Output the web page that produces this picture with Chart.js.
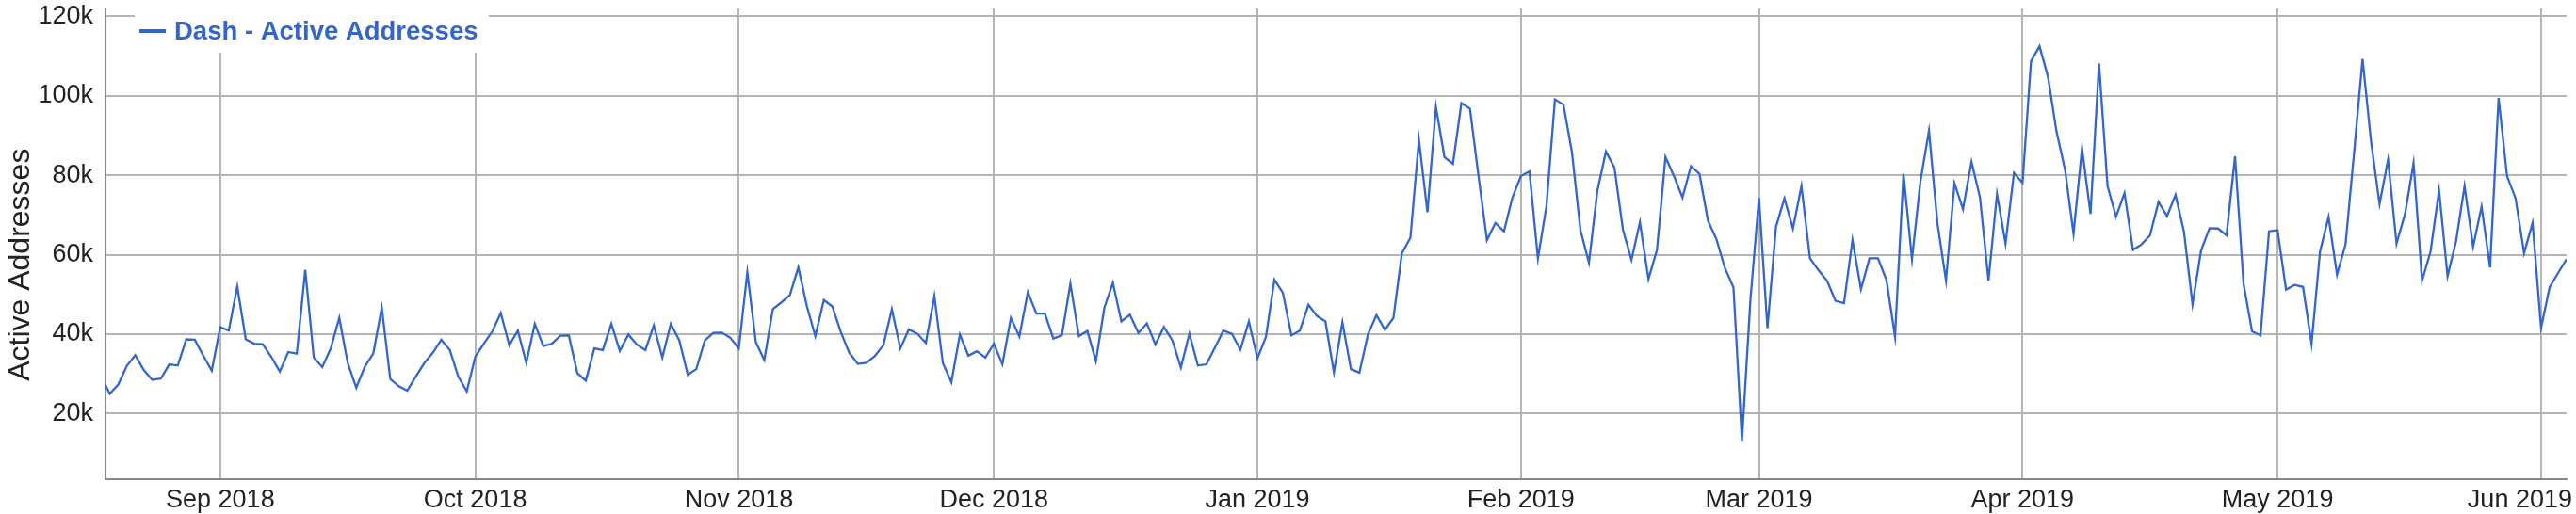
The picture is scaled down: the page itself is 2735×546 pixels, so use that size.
<!DOCTYPE html>
<html>
<head>
<meta charset="utf-8">
<script src="https://cdn.jsdelivr.net/npm/chart.js@4.4.0/dist/chart.umd.min.js"></script>
<style>
  html, body { margin: 0; padding: 0; background: #fff; }
</style>
</head>
<body>
<canvas id="myChart" width="2735" height="546"></canvas>
<script>
// daily values, first day = start_date
const start_date = "2018-08-18";
const active_addresses = [
  29300, 25000, 27300, 32000, 34700, 31000, 28500, 28800, 32400, 32100,
  38700, 38600, 34600, 30800, 41800, 40900, 52000, 38700, 37600, 37500,
  34300, 30600, 35500, 35100, 56200, 34100, 31700, 36400, 44100, 32700,
  26500, 31800, 35100, 46700, 28700, 26900, 25800, 29300, 32700, 35300,
  38600, 36000, 29300, 25600, 34300, 37600, 40700, 45300, 37200, 40900,
  32800, 42600, 37000, 37600, 39600, 39700, 30200, 28300, 36400, 36000,
  42600, 35800, 39900, 37400, 36000, 42200, 34100, 42600, 38400, 29800,
  31200, 38400, 40300, 40400, 39100, 36400, 55600, 38000, 33500, 46300,
  48000, 49800, 56800, 47100, 39500, 48600, 47000, 40500, 35300, 32500,
  32800, 34500, 37200, 46300, 36400, 41200, 40100, 37800, 49600, 32700,
  27900, 39900, 34600, 35700, 34100, 37600, 32400, 44100, 39400, 50600,
  45200, 45200, 38900, 39700, 52700, 39500, 40800, 33200, 46700, 52900,
  43200, 44900, 40300, 42700, 37400, 41800, 38400, 31600, 40100, 32100,
  32400, 36600, 40900, 40100, 36100, 43200, 33900, 39300, 53700, 50400,
  39700, 40900, 47400, 44600, 43200, 30400, 43000, 31200, 30300, 39900,
  44800, 41100, 44100, 60400, 64300, 88900, 70700, 97200, 84600, 82900,
  98200, 96800, 80000, 63700, 68000, 65900, 74400, 79800, 81000, 59100,
  72200, 99100, 97800, 85800, 66200, 58000, 76200, 86000, 81900, 66300,
  58700, 68200, 53900, 61200, 84600, 79800, 74400, 82300, 80400, 68600,
  63900, 56600, 51800, 13200, 48800, 74300, 41500, 67000, 74200, 66600,
  77300, 59100, 56100, 53500, 48400, 47800, 63700, 51300, 59100, 59100,
  53600, 39400, 80400, 58900, 78600, 91200, 67800, 53500, 78000, 71500,
  83400, 74400, 53500, 75300, 62800, 80600, 78100, 108700, 112500, 104800,
  91000, 81500, 65300, 86800, 70300, 108200, 77300, 69600, 75500, 61200,
  62600, 64900, 73300, 69700, 75100, 65700, 47500, 61000, 66700, 66600,
  64900, 84800, 52700, 40700, 39700, 65900, 66200, 51200, 52400, 51900,
  37600, 60800, 69500, 55000, 62600, 85600, 109300, 88500, 72800, 83900,
  62800, 70300, 83100, 53500, 60800, 76200, 54600, 63400, 77300, 62000,
  72100, 56800, 99500, 79800, 74200, 60400, 68000, 41600, 51800, 55400,
  58900
];
const month_labels = ["Sep 2018", "Oct 2018", "Nov 2018", "Dec 2018", "Jan 2019",
                      "Feb 2019", "Mar 2019", "Apr 2019", "May 2019", "Jun 2019"];
const y_ticks = [20000, 40000, 60000, 80000, 100000, 120000];
const y_labels = ["20k", "40k", "60k", "80k", "100k", "120k"];

const font_family = "'Liberation Sans', Arial, sans-serif";
const line_color = '#3366cc';

/** day index of every 1st of the month */
const t0 = Date.parse(start_date + "T00:00:00Z");
let month_starts = [];
active_addresses.forEach((v, i) => {
    if (new Date(t0 + i * 86400000).getUTCDate() === 1) month_starts.push(i);
});

/** white box with line + bold label, sits over the gridlines in the top left */
const legend_box = {
    id: 'legend_box',
    beforeDatasetsDraw(chart) {
        const ctx = chart.ctx;
        const area = chart.chartArea;
        const ds = chart.data.datasets[0];
        ctx.save();
        ctx.fillStyle = '#ffffff';
        ctx.fillRect(area.left + 31, area.top, 376, 47);
        ctx.strokeStyle = ds.borderColor;
        ctx.lineWidth = 4;
        ctx.beginPath();
        ctx.moveTo(area.left + 36, area.top + 24);
        ctx.lineTo(area.left + 64, area.top + 24);
        ctx.stroke();
        ctx.font = 'bold 27.5px ' + font_family;
        ctx.fillStyle = ds.borderColor;
        ctx.textBaseline = 'alphabetic';
        ctx.fillText(ds.label, area.left + 73, area.top + 33);
        ctx.restore();
    }
};

let ctx = document.getElementById('myChart').getContext('2d');
let myChart = new Chart(ctx, {
    type: 'line',
    data: {
        datasets: [{
            label: 'Dash - Active Addresses',
            data: active_addresses.map((v, i) => ({x: i, y: v})),
            borderColor: line_color,
            borderWidth: 2.3,
            pointRadius: 0,
            fill: false,
            tension: 0,
            clip: 0
        }]
    },
    options: {
        responsive: false,
        animation: false,
        events: [],
        layout: { padding: { top: 9, right: 10, left: 0, bottom: 0 } },
        plugins: {
            legend: { display: false },
            tooltip: { enabled: false }
        },
        scales: {
            x: {
                type: 'linear',
                min: 0.5,
                max: 290,
                afterBuildTicks: s => { s.ticks = month_starts.map(v => ({value: v})); },
                afterFit: s => { s.height = 37; s.paddingLeft = 0; s.paddingRight = 0; },
                ticks: {
                    autoSkip: false,
                    maxRotation: 0,
                    padding: 6,
                    color: '#222222',
                    font: { family: font_family, size: 27 },
                    // last label pushed left so it stays inside the canvas
                    callback: (v, i, t) => i === t.length - 1 ? month_labels[i] + '      ' : month_labels[i]
                },
                grid: { color: '#b5b5b5', lineWidth: 2, drawTicks: false },
                border: { color: '#888888', width: 2 }
            },
            y: {
                min: 3500,
                max: 122000,
                afterBuildTicks: s => { s.ticks = y_ticks.map(v => ({value: v})); },
                afterFit: s => { s.width = 112; s.paddingTop = 0; s.paddingBottom = 0; },
                ticks: {
                    padding: 13,
                    color: '#222222',
                    font: { family: font_family, size: 27 },
                    callback: (v, i) => y_labels[i]
                },
                grid: { color: '#b5b5b5', lineWidth: 2, drawTicks: false },
                border: { color: '#888888', width: 2 },
                title: {
                    display: true,
                    // trailing spaces move the title a bit lower, as in the original
                    text: 'Active Addresses     ',
                    color: '#222222',
                    font: { family: font_family, size: 32 },
                    padding: { top: 3, bottom: 0 }
                }
            }
        }
    },
    plugins: [legend_box]
});
</script>
</body>
</html>
